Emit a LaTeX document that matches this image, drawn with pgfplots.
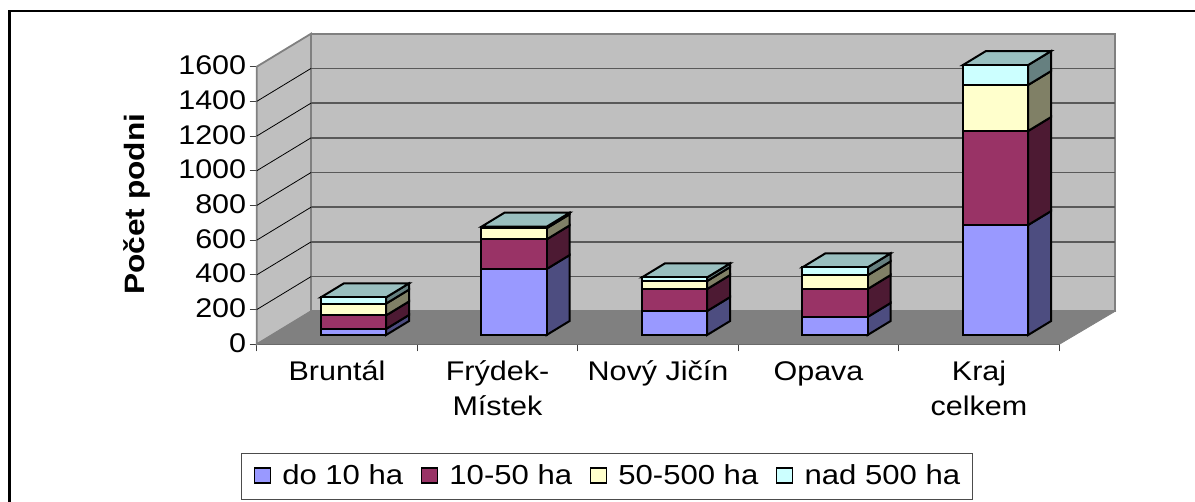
\documentclass[border=0pt]{standalone}
\usepackage{pgfplots}
\pgfplotsset{compat=1.18}
\usepackage{pgfplotstable}
\usepackage{fontspec}
\setmainfont{Liberation Sans}[FakeStretch=1.13]
\definecolor{cA}{HTML}{9999FF}\definecolor{cB}{HTML}{993366}\definecolor{cC}{HTML}{FFFFCC}\definecolor{cD}{HTML}{CCFFFF}
\definecolor{sA}{HTML}{4D4D80}\definecolor{sB}{HTML}{4D1A33}\definecolor{sC}{HTML}{808066}\definecolor{sD}{HTML}{668080}
\definecolor{tT}{HTML}{99BFBF}
\pgfplotstableread{
x  a   b   c   d
0.5 35  78  68  36
1.5 380 171 64  9
2.5 138 127 46  21
3.5 104 161 79  46
4.5 634 542 265 115
}\datatable
% side face of one stacked segment: centre, lower and upper cumulative value, colour
\newcommand\seg[4]{%
 \pgfmathsetmacro\xa{#1+0.103+0.2031}\pgfmathsetmacro\xb{\xa+0.1433}%
 \pgfmathsetmacro\ya{#2+53.6}\pgfmathsetmacro\yb{#3+53.6}%
 \pgfmathsetmacro\yc{\ya+80.7}\pgfmathsetmacro\yd{\yb+80.7}%
 \addplot[fill=#4,draw=black,line width=2pt,forget plot] coordinates {(\xa,\ya)(\xb,\yc)(\xb,\yd)(\xa,\yb)} --cycle;}
\newcommand\topf[2]{%
 \pgfmathsetmacro\xa{#1+0.103-0.2031}\pgfmathsetmacro\xb{#1+0.103+0.2031}%
 \pgfmathsetmacro\xc{\xb+0.1433}\pgfmathsetmacro\xd{\xa+0.1433}%
 \pgfmathsetmacro\ya{#2+53.6}\pgfmathsetmacro\yb{\ya+80.7}%
 \addplot[fill=tT,draw=black,line width=2pt,forget plot] coordinates {(\xa,\ya)(\xb,\ya)(\xc,\yb)(\xd,\yb)} --cycle;}
\newcommand\col[5]{\seg{#1}{0}{#2}{sA}\seg{#1}{#2}{#3}{sB}\seg{#1}{#3}{#4}{sC}\seg{#1}{#4}{#5}{sD}\topf{#1}{#5}}
\newcommand\limg[1]{\draw[fill=#1,draw=black,line width=1.5pt] (0pt,-7pt) rectangle (16pt,8pt); \path[draw=none,fill=none] (0pt,0pt)--(28pt,0pt);}
\begin{document}
\begin{tikzpicture}[x=1pt,y=1pt]
\useasboundingbox (0,0) rectangle (1195,502);
\draw[line width=2.5pt,line cap=butt] (9.5,0)--(9.5,491)--(1195,491);
\begin{axis}[
  at={(256.7pt,157.7pt)},anchor=south west,
  scale only axis,width=802.6pt,height=277.6pt,
  xmin=0,xmax=5,ymin=0,ymax=1600,clip=false,
  axis x line*=bottom,axis y line*=left,
  x axis line style={-,line width=1.8pt,draw=black!85},
  y axis line style={-,line width=1pt,draw=black!80},
  tick align=outside,
  ytick={0,200,...,1600},
  xtick={0.5,1.5,2.5,3.5,4.5},
  xticklabels={Bruntál,{Frýdek-\\Místek},Nový Jičín,Opava,{Kraj\\celkem}},
  minor xtick={0,1,2,3,4,5},
  major x tick style={draw=none},
  minor tick length=7pt,major tick length=7pt,
  every tick/.style={black!75,line width=0.9pt},
  typeset ticklabels with strut,
  xticklabel style={align=center,font=\fontsize{27}{35}\selectfont,yshift=-1pt},
  yticklabel style={font=\fontsize{27}{30}\selectfont,yshift=-2pt},
  /pgf/number format/assume math mode=true,
  /pgf/number format/1000 sep={},
  ylabel={Počet podni},
  ylabel style={at={(axis description cs:-0.1404,0.505)},anchor=base,rotate=0,font=\fontsize{28}{30}\selectfont\bfseries},
]
% walls and floor
\addplot[fill=black!25,draw=black!50,line width=1.8pt,forget plot] coordinates {(0,0)(0.3383,190)(0.3383,1790)(0,1600)} --cycle;
\addplot[fill=black!25,draw=black!50,line width=1.8pt,forget plot] coordinates {(0.3383,190)(5.347,190)(5.347,1790)(0.3383,1790)} --cycle;
\addplot[fill=black!50,draw=black!50,line width=0.8pt,forget plot] coordinates {(0,0)(5,0)(5.347,190)(0.3383,190)} --cycle;
\pgfplotsinvokeforeach{200,400,...,1400}{%
  \pgfmathsetmacro\gy{#1+190}%
  \addplot[draw=black!65,line width=1.6pt,forget plot] coordinates {(0.3383,\gy)(5.347,\gy)};
  \addplot[draw=black,line width=0.8pt,forget plot] coordinates {(0,#1)(0.3383,\gy)};
}
\col{0.5}{35}{113}{181}{217}
\col{1.5}{380}{551}{615}{624}
\col{2.5}{138}{265}{311}{332}
\col{3.5}{104}{265}{344}{390}
\col{4.5}{634}{1176}{1441}{1556}
\end{axis}
\begin{axis}[
  at={(256.7pt,157.7pt)},anchor=south west,
  scale only axis,width=802.6pt,height=277.6pt,
  xmin=-0.103,xmax=4.897,ymin=-53.6,ymax=1546.4,clip=false,
  hide axis,
  ybar stacked,bar width=65.2pt,
  legend columns=-1,
  legend style={at={(-0.01956,-0.3905)},anchor=north west,draw=black!70,line width=1pt,
    font=\fontsize{27.5}{30}\selectfont,
    inner xsep=12pt,inner ysep=8.5pt,
    nodes={inner xsep=0pt,inner ysep=3pt,text height=20pt,text depth=3pt},
    /tikz/every even column/.append style={column sep=17.5pt}},
]
\addplot[fill=cA,draw=black,line width=2pt,legend image code/.code={\limg{cA}}] table[x=x,y=a]{\datatable};
\addplot[fill=cB,draw=black,line width=2pt,legend image code/.code={\limg{cB}}] table[x=x,y=b]{\datatable};
\addplot[fill=cC,draw=black,line width=2pt,legend image code/.code={\limg{cC}}] table[x=x,y=c]{\datatable};
\addplot[fill=cD,draw=black,line width=2pt,legend image code/.code={\limg{cD}}] table[x=x,y=d]{\datatable};
\legend{do 10 ha,10-50 ha,50-500 ha,nad 500 ha}
\end{axis}
\end{tikzpicture}
\end{document}
